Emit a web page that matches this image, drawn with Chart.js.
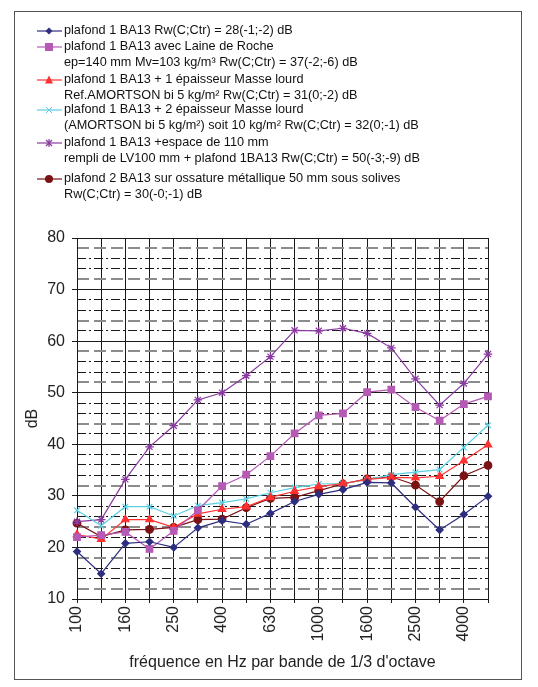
<!DOCTYPE html>
<html lang="fr">
<head>
  <meta charset="UTF-8">
  <title>Isolement plafonds</title>
  <script src="https://cdn.jsdelivr.net/npm/chart.js"></script>
  <style>
    body { margin: 0; background: #fff; font-family: "Liberation Sans", Arial, sans-serif; }
    #frame { position: absolute; left: 14px; top: 11px; width: 508px; height: 669px; border: 1px solid #555; box-sizing: border-box; }
    #chart { position: absolute; left: 0; top: 0; }
    .item { position: absolute; left: 37px; font-size: 12.7px; line-height: 15.5px; color: #111; white-space: nowrap; }
    .item svg { position: absolute; left: 0; top: 2px; }
    .item div { margin-left: 27px; }
  </style>
  <script>
    addEventListener("DOMContentLoaded", init);

    const freqs = ["100", "125", "160", "200", "250", "315", "400", "500", "630", "800",
                   "1000", "1250", "1600", "2000", "2500", "3150", "4000", "5000"];

    const ba13 =        [19.2, 14.9, 20.8, 21.1, 20.0, 23.8, 25.2, 24.5, 26.6, 28.9, 30.3, 31.2, 32.6, 32.5, 27.8, 23.4, 26.4, 29.9];
    const laineRoche =  [22.0, 22.4, 23.0, 19.7, 23.2, 27.2, 31.9, 34.1, 37.7, 42.1, 45.6, 46.0, 50.1, 50.6, 47.2, 44.6, 47.8, 49.3];
    const masse1 =      [22.5, 21.6, 25.4, 25.4, 23.9, 26.5, 27.4, 27.9, 29.7, 30.9, 31.8, 32.4, 33.2, 33.6, 33.5, 33.8, 36.8, 39.9];
    const masse2 =      [27.2, 24.2, 27.9, 27.9, 26.1, 28.1, 28.7, 29.4, 30.6, 31.6, 32.3, 32.4, 33.1, 34.1, 34.6, 35.1, 39.4, 43.7];
    const doublePlaf =  [25.0, 25.4, 33.2, 39.5, 43.6, 48.6, 50.0, 53.3, 57.0, 62.1, 62.0, 62.5, 61.5, 58.7, 52.7, 47.6, 51.8, 57.5];
    const ossature =    [24.7, 22.1, 23.4, 23.5, 23.9, 25.4, 25.5, 27.7, 29.5, 29.7, 31.0, 32.3, 33.3, 33.7, 32.1, 28.9, 33.9, 35.9];

    const labels = [
      ["plafond 1 BA13 Rw(C;Ctr) = 28(-1;-2) dB"],
      ["plafond 1 BA13 avec Laine de Roche", "ep=140 mm Mv=103 kg/m³ Rw(C;Ctr) = 37(-2;-6) dB"],
      ["plafond 1 BA13 + 1 épaisseur Masse lourd", "Ref.AMORTSON bi 5 kg/m² Rw(C;Ctr) = 31(0;-2) dB"],
      ["plafond 1 BA13 + 2 épaisseur Masse lourd", "(AMORTSON bi 5 kg/m²) soit 10 kg/m² Rw(C;Ctr) = 32(0;-1) dB"],
      ["plafond 1 BA13 +espace de 110 mm", "rempli de LV100 mm + plafond 1BA13 Rw(C;Ctr) = 50(-3;-9) dB"],
      ["plafond 2 BA13 sur ossature métallique 50 mm sous solives", "Rw(C;Ctr) = 30(-0;-1) dB"]
    ];

    const series = [ba13, laineRoche, masse1, masse2, doublePlaf, ossature];
    const colors = ["#2e2e80", "#b55ab5", "#ff3030", "#5ccfe4", "#8a3aa0", "#7a1214"];
    const markers = ["rectRot", "rect", "triangle", "crossRot", "star", "circle"];
    const markerSizes = [3.5, 4.6, 4.3, 4, 4.3, 3.8];

    // minor grid values (every 2 dB), grey long dashes vs black dash-dot
    const greyMinor = [12, 18, 24, 32, 44, 52, 58, 64, 72, 78];
    const blackMinor = [14, 16, 22, 26, 28, 34, 36, 38, 42, 46, 48, 54, 56, 62, 66, 68, 74, 76];

    const legendTops = [23, 39, 72, 102, 135, 171];

    function markerSvg(i) {
      const c = colors[i];
      let m = "";
      switch (markers[i]) {
        case "rectRot": m = `<polygon points="12,2.5 15.5,6 12,9.5 8.5,6" fill="${c}"/>`; break;
        case "rect": m = `<rect x="8" y="2" width="8" height="8" fill="${c}"/>`; break;
        case "triangle": m = `<polygon points="12,1.5 16,9.5 8,9.5" fill="${c}"/>`; break;
        case "crossRot": m = `<path d="M9 3 L15 9 M15 3 L9 9" stroke="${c}" stroke-width="1"/>`; break;
        case "star": m = `<path d="M9 3 L15 9 M15 3 L9 9 M12 2 L12 10" stroke="${c}" stroke-width="1.2"/>`; break;
        case "circle": m = `<circle cx="12" cy="6" r="4" fill="${c}"/>`; break;
      }
      return `<svg width="25" height="12"><line x1="0" y1="6" x2="25" y2="6" stroke="${c}" stroke-width="1.2"/>${m}</svg>`;
    }

    function buildLegend() {
      const frame = document.getElementById("legend");
      labels.forEach((lines, i) => {
        const el = document.createElement("div");
        el.className = "item";
        el.style.top = legendTops[i] + "px";
        el.innerHTML = markerSvg(i) + "<div>" + lines.join("<br>") + "</div>";
        frame.appendChild(el);
      });
    }

    function minorAxis(values, color, width, dash) {
      return {
        type: "linear",
        position: "right",
        min: 10,
        max: 80,
        afterBuildTicks: scale => { scale.ticks = values.map(v => ({ value: v })); },
        afterFit: scale => { scale.width = 0; },
        ticks: { display: false },
        grid: { color: color, lineWidth: width, drawTicks: false, drawOnChartArea: true },
        border: { display: false, dash: dash }
      };
    }

    function init() {
      buildLegend();

      const datasets = series.map((data, i) => ({
        label: labels[i].join(" "),
        data: data,
        borderColor: colors[i],
        backgroundColor: colors[i],
        borderWidth: 1.2,
        pointStyle: markers[i],
        pointRadius: markerSizes[i],
        pointBorderWidth: 1.2,
        tension: 0
      }));

      new Chart(document.getElementById("chart"), {
        type: "line",
        data: { labels: freqs, datasets: datasets },
        options: {
          responsive: false,
          animation: false,
          layout: { padding: { left: 15, top: 238, right: 50, bottom: 7 } },
          plugins: { legend: { display: false }, tooltip: { enabled: false } },
          scales: {
            x: {
              offset: false,
              afterFit: scale => { scale.height = 81; },
              grid: { color: "#1a1a1a", lineWidth: 1, tickLength: 4, tickColor: "#1a1a1a" },
              border: { color: "#1a1a1a", width: 1 },
              ticks: {
                autoSkip: false,
                minRotation: 90,
                maxRotation: 90,
                padding: 3,
                color: "#222",
                font: { family: "Liberation Sans", size: 16 },
                callback: function (v, i) { return i % 2 === 0 ? this.getLabelForValue(v) : ""; }
              },
              title: {
                display: true,
                text: "fréquence en Hz par bande de 1/3 d'octave",
                color: "#222",
                font: { family: "Liberation Sans", size: 16 },
                padding: 8
              }
            },
            y: {
              min: 10,
              max: 80,
              afterFit: scale => { scale.width = 62; },
              ticks: { stepSize: 10, padding: 7, color: "#222", font: { family: "Liberation Sans", size: 16 } },
              grid: { color: "#1a1a1a", lineWidth: 1, tickLength: 5, tickColor: "#1a1a1a" },
              border: { color: "#1a1a1a", width: 1 },
              title: {
                display: true,
                text: "dB",
                color: "#222",
                font: { family: "Liberation Sans", size: 16 },
                padding: 8
              }
            },
            yGrey: minorAxis(greyMinor, "#8c8c8c", 2, [12, 5]),
            yBlack: minorAxis(blackMinor, "#1a1a1a", 1, [9, 3, 2, 3])
          }
        }
      });
    }
  </script>
</head>
<body>
  <canvas id="chart" width="538" height="687"></canvas>
  <div id="frame"></div>
  <div id="legend"></div>
</body>
</html>
